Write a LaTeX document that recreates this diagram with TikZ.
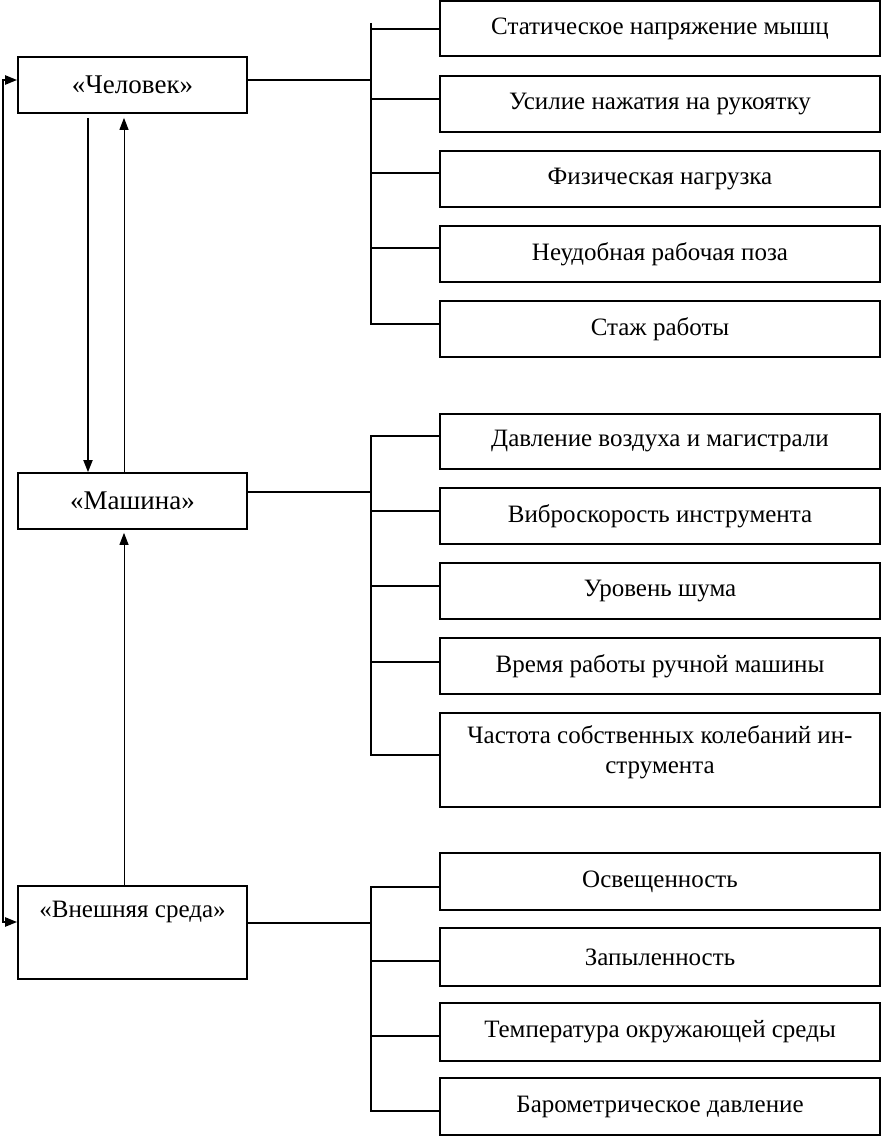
\documentclass[tikz,border=0pt]{standalone}
\usepackage{fontspec}
\setmainfont{Liberation Serif}
\usetikzlibrary{arrows.meta,calc}
\newcommand{\fsz}{\fontsize{25}{30}\selectfont}
\newcommand{\fszl}{\fontsize{27}{30}\selectfont}
\begin{document}
\begin{tikzpicture}[x=1pt,y=-1pt,
  box/.style={draw,line width=1.7pt,inner sep=0pt,minimum width=440pt,minimum height=56pt,font=\fsz},
  lbox/.style={draw,line width=1.7pt,inner sep=0pt,minimum width=229pt,minimum height=56pt,font=\fszl},
  txt/.style={inner sep=0pt,align=center,font=\fsz},
  conn/.style={line width=1.8pt},
  thinl/.style={line width=1pt},
  tipend/.style={-{Triangle[length=12pt,width=9pt]}},
  tipboth/.style={{Triangle[length=12pt,width=9pt]}-{Triangle[length=12pt,width=9pt]}}]
\useasboundingbox (0,0) rectangle (881,1137);
% left boxes
\node[lbox] (ch) at (132.5,85) {«Человек»};
\node[lbox] (ma) at (132.5,501) {«Машина»};
\node[lbox,minimum height=93pt] (ex) at (132.5,932.5) {};
\node[txt] (ext) at (132.5,912) {«Внешняя среда»};
% right boxes: group 1
\node[box,minimum height=55pt] (r1) at (660,28.5) {Статическое напряжение мышц};
\node[box] (r2) at (660,104) {Усилие нажатия на рукоятку};
\node[box] (r3) at (660,179) {Физическая нагрузка};
\node[box] (r4) at (660,254) {Неудобная рабочая поза};
\node[box] (r5) at (660,329) {Стаж работы};
% group 2
\node[box,minimum height=55pt] (m1) at (660,441.5) {Давление воздуха и магистрали};
\node[box] (m2) at (660,516) {Виброскорость инструмента};
\node[box] (m3) at (660,591) {Уровень шума};
\node[box] (m4) at (660,666) {Время работы ручной машины};
\node[box,minimum height=94pt] (m5) at (660,760) {};
\node[txt] (m5t) at (660,752) {Частота собственных колебаний ин-\\струмента};
% group 3
\node[box,minimum height=57pt] (e1) at (660,881.5) {Освещенность};
\node[box,minimum height=58pt] (e2) at (660,957) {Запыленность};
\node[box,minimum height=58pt] (e3) at (660,1032) {Температура окружающей среды};
\node[box,minimum height=57pt] (e4) at (660,1106.5) {Барометрическое давление};
% trunks
\coordinate (ta) at (371,23);  \coordinate (tb) at (371,324);
\coordinate (tc) at (371,436); \coordinate (td) at (371,755);
\coordinate (te) at (371,887); \coordinate (tf) at (371,1111);
\draw[conn] (ta) -- (tb);
\draw[conn] (tc) -- (td);
\draw[conn] (te) -- (tf);
\draw[conn] ($(ch.east)+(0,-5)$) -- ++(124,0);
\draw[conn] ($(ma.east)+(0,-9)$) -- ++(124,0);
\draw[conn] ($(ex.east)+(0,-9.5)$) -- ++(124,0);
% stubs
\draw[conn] ($(r1.west)+(0,0.5)$) -- ++(-69,0);
\draw[conn] ($(r2.west)+(0,-5)$) -- ++(-69,0);
\draw[conn] ($(r3.west)+(0,-6)$) -- ++(-69,0);
\draw[conn] ($(r4.west)+(0,-6)$) -- ++(-69,0);
\draw[conn] ($(r5.west)+(0,-5)$) -- ++(-69,0);
\draw[conn] ($(m1.west)+(0,-5.5)$) -- ++(-69,0);
\draw[conn] ($(m2.west)+(0,-5)$) -- ++(-69,0);
\draw[conn] ($(m3.west)+(0,-5)$) -- ++(-69,0);
\draw[conn] ($(m4.west)+(0,-4)$) -- ++(-69,0);
\draw[conn] ($(m5.west)+(0,-5)$) -- ++(-69,0);
\draw[conn] ($(e1.west)+(0,5.5)$) -- ++(-69,0);
\draw[conn] ($(e2.west)+(0,4)$) -- ++(-69,0);
\draw[conn] ($(e3.west)+(0,4)$) -- ++(-69,0);
\draw[conn] ($(e4.west)+(0,4.5)$) -- ++(-69,0);
% left loop
\coordinate (lpA) at (3,80);
\coordinate (lpB) at (3,922);
\draw[line width=2.2pt,tipboth] ($(ch.west)+(0,-5)$) -- (lpA) -- (lpB) -- ($(ex.west)+(0,-10.5)$);
% vertical arrows
\draw[conn,tipend] ($(ch.south)+(-44.5,4)$) -- ($(ma.north)+(-44.5,0)$);
\draw[thinl,tipend] ($(ma.north)+(-8.5,0)$) -- ($(ch.south)+(-8.5,4)$);
\draw[thinl,tipend] ($(ex.north)+(-8.5,0)$) -- ($(ma.south)+(-8.5,3)$);
\end{tikzpicture}
\end{document}
